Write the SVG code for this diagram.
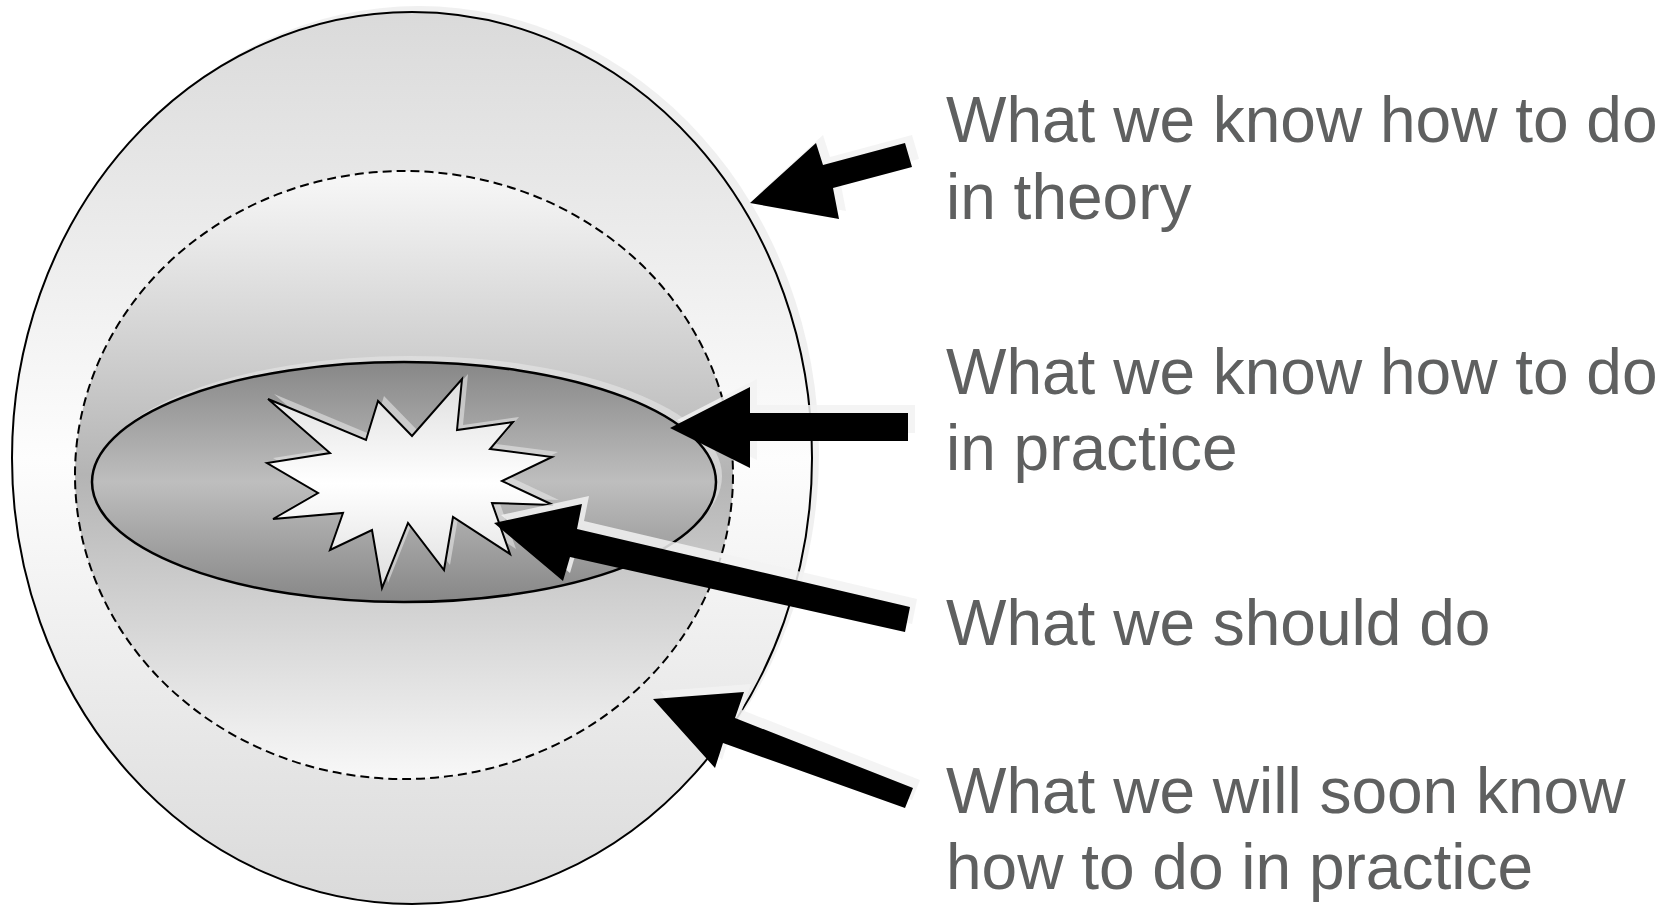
<svg xmlns="http://www.w3.org/2000/svg" width="1671" height="907" viewBox="0 0 1671 907">
<defs>
<linearGradient id="gOuter" x1="0" y1="0" x2="0" y2="1">
<stop offset="0" stop-color="#dadada"/><stop offset="0.5" stop-color="#fdfdfd"/><stop offset="1" stop-color="#dadada"/>
</linearGradient>
<linearGradient id="gDash" x1="0" y1="0" x2="0" y2="1">
<stop offset="0" stop-color="#f8f8f8"/><stop offset="0.5" stop-color="#b4b4b4"/><stop offset="1" stop-color="#f8f8f8"/>
</linearGradient>
<linearGradient id="gInner" x1="0" y1="0" x2="0" y2="1">
<stop offset="0" stop-color="#878787"/><stop offset="0.5" stop-color="#bebebe"/><stop offset="1" stop-color="#878787"/>
</linearGradient>
<linearGradient id="gStar" x1="0" y1="0" x2="0" y2="1">
<stop offset="0" stop-color="#dedede"/><stop offset="0.5" stop-color="#ffffff"/><stop offset="1" stop-color="#dedede"/>
</linearGradient>
<style>
.edge{stroke:#000;stroke-width:2}
.shadow{fill:#e6e6e6;opacity:0.6}
.ashadow{fill:#f2f2f2;opacity:0.85}
.arrow{fill:#000}
.label{font-family:"Liberation Sans",Arial,sans-serif;font-size:64px;fill:#5f6060}
</style>
</defs>
<rect width="1671" height="907" fill="#fff"/>
<g id="outer">
<ellipse cx="419" cy="452" rx="400" ry="446" class="shadow"/>
<ellipse cx="412" cy="458" rx="400" ry="446" fill="url(#gOuter)" class="edge"/>
</g>
<g id="dashed">
<ellipse cx="404" cy="475" rx="329" ry="304" fill="url(#gDash)" stroke="#000" stroke-width="2" stroke-dasharray="9 5"/>
</g>
<g id="inner">
<ellipse cx="410" cy="476" rx="312" ry="120" class="shadow"/>
<ellipse cx="404" cy="482" rx="312" ry="120" fill="url(#gInner)" stroke="#000" stroke-width="2.5"/>
</g>
<g id="star">
<polygon transform="translate(6,-5)" class="shadow" points="268,399 366,440 378,401 412,436 462,379 457,430 513,422 490,449 552,457 502,481 553,505 492,503 510,554 453,517 444,570 408,523 382,588 372,530 330,550 343,513 273,519 318,493 267,463 330,453"/>
<polygon fill="url(#gStar)" class="edge" points="268,399 366,440 378,401 412,436 462,379 457,430 513,422 490,449 552,457 502,481 553,505 492,503 510,554 453,517 444,570 408,523 382,588 372,530 330,550 343,513 273,519 318,493 267,463 330,453"/>
</g>
<g id="connectors">
<g transform="translate(7,-8)">
<polygon class="ashadow" points="750,203 816,143 823,165 905,143 912,167 833,188 839,219"/>
<polygon class="ashadow" points="670,428 750,387 750,413 908,413 908,441 750,441 750,468"/>
<polygon class="ashadow" points="494,523 582,504 577,529 910,607 905,632 570,557 563,581"/>
<polygon class="ashadow" points="653,699 744,692 735,718 913,788 905,808 723,743 715,768"/>
</g>
<polygon class="arrow" points="750,203 816,143 823,165 905,143 912,167 833,188 839,219"/>
<polygon class="arrow" points="670,428 750,387 750,413 908,413 908,441 750,441 750,468"/>
<polygon class="arrow" points="494,523 582,504 577,529 910,607 905,632 570,557 563,581"/>
<polygon class="arrow" points="653,699 744,692 735,718 913,788 905,808 723,743 715,768"/>
</g>
<g id="label-theory">
<text class="label" x="946" y="142">What we know how to do</text>
<text class="label" x="946" y="219">in theory</text>
</g>
<g id="label-practice">
<text class="label" x="946" y="394">What we know how to do</text>
<text class="label" x="946" y="470">in practice</text>
</g>
<g id="label-should">
<text class="label" x="946" y="645">What we should do</text>
</g>
<g id="label-soon">
<text class="label" x="946" y="813">What we will soon know</text>
<text class="label" x="946" y="889">how to do in practice</text>
</g>
</svg>
